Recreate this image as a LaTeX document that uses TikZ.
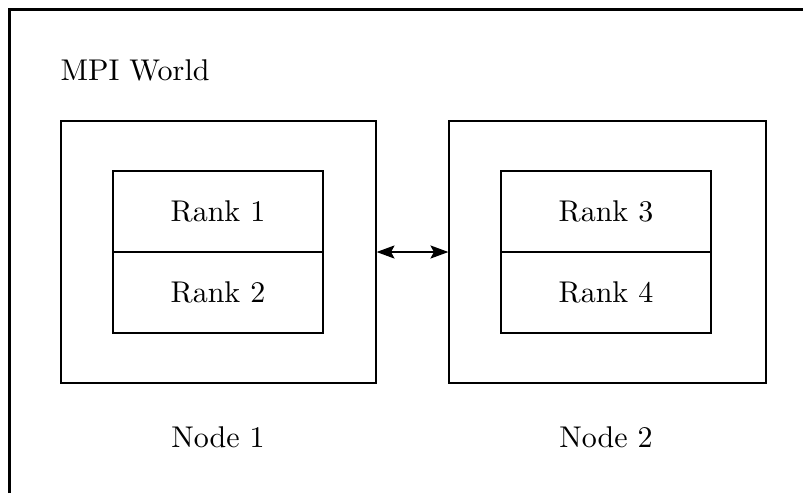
\documentclass[tikz,border=0pt]{standalone}
\usetikzlibrary{arrows.meta}
\begin{document}
\begin{tikzpicture}[x=0.33333pt,y=-0.33333pt,
  hostbox/.style={draw,line width=0.4pt,minimum width=105pt,minimum height=87.3pt,inner sep=0pt},
  rankbox/.style={draw,line width=0.4pt,minimum width=70pt,minimum height=27pt,inner sep=0pt},
  lbl/.style={inner sep=0pt},
  link/.style={line width=0.4pt,>={Stealth[length=6pt,width=4.4pt,inset=1.2pt]},<->}]
\useasboundingbox (0,0) rectangle (803,493);
\draw[line width=1pt] (9.5,493) -- (9.5,9.5) -- (803,9.5);
\node[lbl,anchor=west] (world) at (60,70) {MPI World};
\node[hostbox] (n1) at (218.5,252) {};
\node[hostbox,minimum width=105.7pt] (n2) at (607.5,252) {};
\node[rankbox] (r1) at (218,211.5) {Rank 1};
\node[rankbox] (r2) at (218,292.5) {Rank 2};
\node[rankbox] (r3) at (606,211.5) {Rank 3};
\node[rankbox] (r4) at (606,292.5) {Rank 4};
\node[lbl] (l1) at (218,437) {Node 1};
\node[lbl] (l2) at (606,437) {Node 2};
\draw[link] (n1.east) -- (n2.west);
\end{tikzpicture}
\end{document}
